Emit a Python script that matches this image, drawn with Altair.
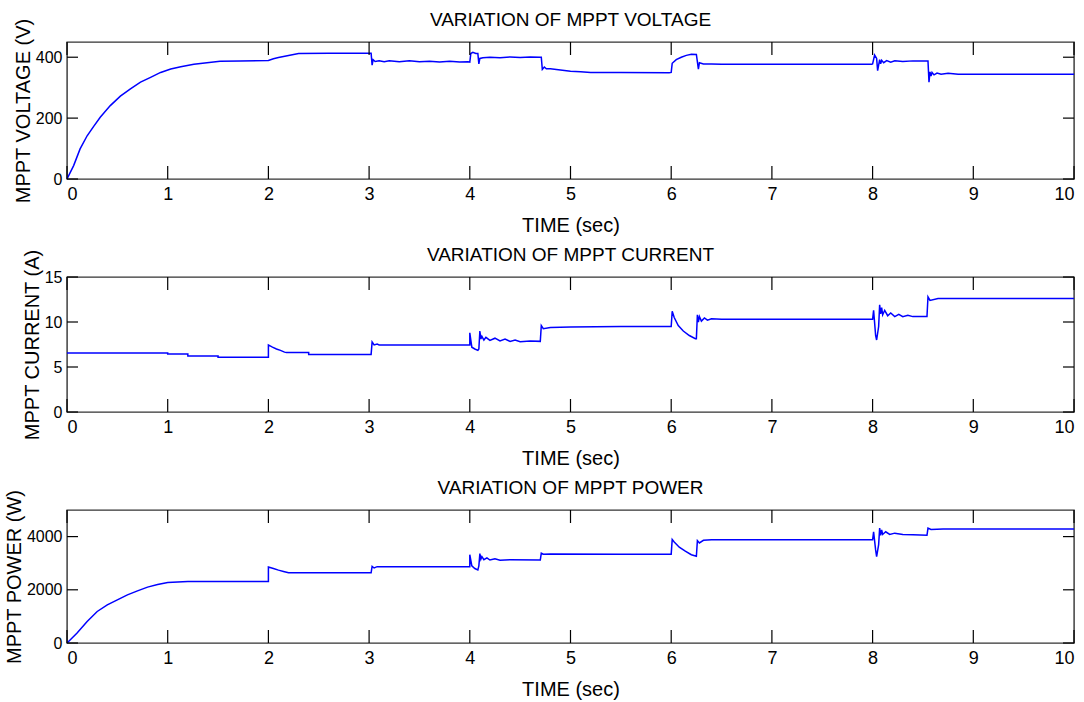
import altair as alt
import pandas as pd

# ---- time axis (seconds) ----
X_TICKS = [0, 1, 2, 3, 4, 5, 6, 7, 8, 9, 10]

# ---- MPPT voltage (V) ----
t_voltage = [0, 0.066, 0.13, 0.2, 0.265, 0.33, 0.43, 0.53, 0.63, 0.73, 0.83, 0.93,
             1.03, 1.13, 1.26, 1.39, 1.52, 1.72, 2.0, 2.05, 2.1, 2.2, 2.3, 2.6, 3.0,
             3.02, 3.03, 3.04, 3.06, 3.1, 3.15, 3.2, 3.3, 3.4, 3.5, 3.6, 3.7, 3.8, 3.9, 3.98,
             4.0, 4.01, 4.03, 4.06, 4.08, 4.09, 4.1, 4.13, 4.2, 4.3, 4.4, 4.5, 4.6, 4.7,
             4.71, 4.72, 4.74, 4.76, 4.8, 4.9, 5.0, 5.1, 5.2, 5.5, 5.98,
             6.0, 6.01, 6.05, 6.1, 6.15, 6.2, 6.25, 6.27, 6.28, 6.32, 6.4, 6.5, 7.0, 7.99,
             8.0, 8.02, 8.04, 8.05, 8.07, 8.08, 8.09, 8.11, 8.14, 8.18, 8.22, 8.3, 8.4, 8.54,
             8.55, 8.56, 8.57, 8.58, 8.59, 8.61, 8.64, 8.68, 8.75, 8.85, 10]
voltage = [0, 44, 99, 142, 173, 203, 241, 272, 296, 318, 334, 350,
           361, 369, 377, 382, 387, 388, 389, 395, 399, 406, 412, 413, 413,
           413, 374, 392, 386, 388, 385, 388, 385, 388, 385, 387, 384, 387, 384, 385,
           384, 412, 416, 412, 412, 378, 396, 398, 400, 398, 401, 399, 401, 400,
           400, 360, 368, 362, 362, 358, 354, 352, 350, 350, 349,
           350, 380, 392, 400, 406, 410, 409, 361, 382, 378, 378, 377, 377, 377,
           378, 407, 396, 356, 392, 378, 390, 382, 389, 384, 388, 386, 388, 388,
           388, 318, 352, 338, 350, 342, 348, 344, 347, 344, 344]

# ---- MPPT current (A) ----
t_current = [0, 1.0, 1.0, 1.2, 1.2, 1.5, 1.5, 2.0, 2.0, 2.04, 2.08, 2.12, 2.16, 2.18, 2.4, 2.4, 3.02,
             3.03, 3.05, 3.08, 3.1, 3.5, 3.98,
             4.0, 4.0, 4.02, 4.05, 4.08, 4.09,
             4.1, 4.11, 4.12, 4.14, 4.16, 4.2, 4.25, 4.3, 4.35, 4.4, 4.45, 4.5, 4.6, 4.7,
             4.71, 4.73, 4.8, 5.0, 5.5, 6.0,
             6.01, 6.03, 6.07, 6.12, 6.18, 6.24, 6.25,
             6.26, 6.27, 6.28, 6.3, 6.33, 6.36, 6.4, 6.5, 7.0, 8.0,
             8.01, 8.03, 8.04, 8.06,
             8.07, 8.08, 8.09, 8.1, 8.12, 8.15, 8.18, 8.22, 8.26, 8.3, 8.35, 8.4, 8.54,
             8.55, 8.57, 8.65, 8.8, 10]
current = [6.55, 6.55, 6.44, 6.44, 6.22, 6.22, 6.07, 6.07, 7.45, 7.2, 7.0, 6.85, 6.65, 6.6, 6.6, 6.4, 6.4,
           7.78, 7.45, 7.55, 7.45, 7.45, 7.45,
           7.45, 8.8, 7.2, 7.0, 6.85, 7.0,
           9.0, 8.1, 8.4, 8.0, 8.3, 7.95, 8.2, 7.9, 8.1, 7.85, 8.0, 7.8, 7.9, 7.85,
           9.6, 9.26, 9.4, 9.45, 9.5, 9.5,
           11.2, 10.5, 9.6, 9.0, 8.5, 8.15, 8.15,
           10.8, 10.0, 10.6, 10.1, 10.45, 10.2, 10.35, 10.3, 10.3, 10.3,
           11.3, 8.5, 8.0, 9.5,
           11.9, 10.9, 11.6, 10.8, 11.3, 10.7, 11.0, 10.6, 10.85, 10.6, 10.75, 10.6, 10.6,
           12.8, 12.4, 12.6, 12.6, 12.6]

# ---- MPPT power (W) ----
t_power = [0, 0.1, 0.2, 0.3, 0.4, 0.5, 0.6, 0.7, 0.8, 0.9, 1.0, 1.2, 2.0,
           2.0, 2.05, 2.1, 2.15, 2.2, 3.02,
           3.03, 3.05, 3.08, 3.5, 3.98,
           4.0, 4.0, 4.02, 4.05, 4.08, 4.09,
           4.1, 4.11, 4.12, 4.14, 4.17, 4.2, 4.25, 4.3, 4.4, 4.7,
           4.71, 4.73, 4.8, 5.5, 6.0,
           6.01, 6.03, 6.08, 6.14, 6.2, 6.25, 6.26, 6.28, 6.32, 6.4, 7.0, 8.0,
           8.01, 8.03, 8.04, 8.06,
           8.07, 8.08, 8.09, 8.1, 8.13, 8.17, 8.22, 8.3, 8.4, 8.54,
           8.55, 8.58, 8.7, 10]
power = [0, 375, 810, 1185, 1436, 1624, 1811, 1961, 2100, 2198, 2272, 2315, 2315,
         2860, 2800, 2740, 2690, 2640, 2640,
         2880, 2820, 2870, 2870, 2870,
         2870, 3320, 2900, 2800, 2750, 2900,
         3360, 3150, 3250, 3130, 3200, 3120, 3170, 3110, 3130, 3120,
         3380, 3340, 3350, 3340, 3340,
         3890, 3800, 3600, 3450, 3320, 3260, 3850, 3760, 3860, 3880, 3880, 3880,
         4180, 3500, 3250, 3700,
         4320, 4050, 4250, 4080, 4180, 4080, 4130, 4080, 4070, 4050,
         4320, 4270, 4290, 4290]

PANEL_W = 1007
FONT = "Liberation Sans, Arial, sans-serif"
LINE_BLUE = "#0000ff"


def frame(t, v):
    return pd.DataFrame({"t": t, "v": v, "i": list(range(len(t)))})


def panel(t, v, ymax, yticks, title, ytitle, h):
    xs = alt.Scale(domain=[0, 10], nice=False, zero=False)
    ys = alt.Scale(domain=[0, ymax], nice=False)
    x_axis = alt.Axis(values=X_TICKS, title="TIME (sec)", ticks=False, domain=False,
                      grid=False, labelPadding=6, titlePadding=12, format="d")
    y_axis = alt.Axis(values=yticks, title=ytitle, ticks=False, domain=False,
                      grid=False, labelPadding=5, titlePadding=2, format="d")

    line = alt.Chart(frame(t, v)).mark_line(
        color=LINE_BLUE, strokeWidth=1.5, clip=True
    ).encode(
        x=alt.X("t:Q", scale=xs, axis=x_axis),
        y=alt.Y("v:Q", scale=ys, axis=y_axis),
        order=alt.Order("i:Q"),
    )

    xt = pd.DataFrame({"t": X_TICKS})
    yt = pd.DataFrame({"v": yticks})
    tick_style = dict(color="#000000", strokeWidth=1.2)

    # inward ticks on all four sides of the box
    top_ticks = alt.Chart(xt).mark_rule(**tick_style).encode(
        x=alt.X("t:Q", scale=xs, axis=x_axis), y=alt.value(0), y2=alt.value(13))
    bottom_ticks = alt.Chart(xt).mark_rule(**tick_style).encode(
        x=alt.X("t:Q", scale=xs, axis=x_axis), y=alt.value(h - 13), y2=alt.value(h))
    left_ticks = alt.Chart(yt).mark_rule(**tick_style).encode(
        y=alt.Y("v:Q", scale=ys, axis=y_axis), x=alt.value(0), x2=alt.value(11))
    right_ticks = alt.Chart(yt).mark_rule(**tick_style).encode(
        y=alt.Y("v:Q", scale=ys, axis=y_axis), x=alt.value(PANEL_W - 11), x2=alt.value(PANEL_W))

    # panel heading, placed just above the box
    heading = alt.Chart(pd.DataFrame({"label": [title]})).mark_text(
        font=FONT, fontSize=19, color="#000000", align="center", baseline="alphabetic"
    ).encode(text="label:N", x=alt.value(PANEL_W / 2), y=alt.value(-16))

    return alt.layer(line, top_ticks, bottom_ticks, left_ticks, right_ticks, heading).properties(
        width=PANEL_W, height=h,
    )


p_voltage = panel(t_voltage, voltage, 450, [0, 200, 400],
                  "VARIATION OF MPPT VOLTAGE", "MPPT VOLTAGE (V)", 137)
p_current = panel(t_current, current, 15, [0, 5, 10, 15],
                  "VARIATION OF MPPT CURRENT", "MPPT CURRENT (A)", 135)
p_power = panel(t_power, power, 5000, [0, 2000, 4000],
                "VARIATION OF MPPT POWER", "MPPT POWER (W)", 133)

chart = alt.vconcat(p_voltage, p_current, p_power, spacing=98, bounds="flush").properties(
    padding={"left": 3, "top": 10, "right": 0, "bottom": 0},
    background="#ffffff",
).configure_view(
    stroke="#333333", strokeWidth=1.4
).configure_axis(
    labelFont=FONT, labelFontSize=18, labelColor="#000000",
    titleFont=FONT, titleFontSize=20, titleFontWeight="normal", titleColor="#000000",
).configure_axisY(
    labelFontSize=16,
)

chart.save("out.html", embed_options={"renderer": "svg", "actions": False})
